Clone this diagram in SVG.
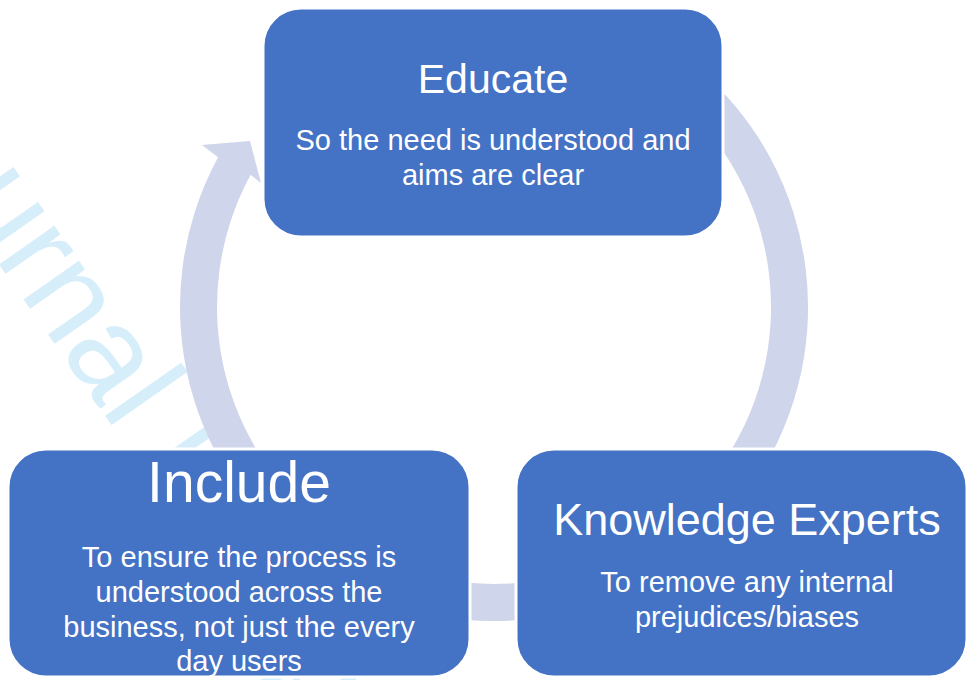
<svg xmlns="http://www.w3.org/2000/svg" width="968" height="680" viewBox="0 0 968 680">
<style>
.box{fill:#4472C4;stroke:#FFFFFF;stroke-width:3}
.t{font-family:"Liberation Sans",Arial,sans-serif;fill:#FFFFFF;text-anchor:middle}
.sub{font-size:29px}
.wm{font-family:"Liberation Sans",Arial,sans-serif;font-size:128px;fill:#D6EEFA}
</style>
<rect width="968" height="680" fill="#FFFFFF"/>
<text class="wm" transform="translate(108,420) rotate(55)" x="-405" y="0">Journal Pre-proof</text>
<g id="connectors">
<path d="M 695.8,66.5 A 314 314 0 1 1 218.1,157.2 L 202,145 L 250,141 L 261,183 L 250.6,174.8 A 277 277 0 1 0 672.1,94.8 Z" fill="#CFD5EA"/>
</g>
<g id="educate">
<rect class="box" x="263" y="8" width="460" height="229" rx="38" ry="38"/>
<text class="t" x="493" y="93" font-size="41">Educate</text>
<text class="t sub" x="493" y="150">So the need is understood and</text>
<text class="t sub" x="493" y="185">aims are clear</text>
</g>
<g id="include">
<rect class="box" x="8" y="449" width="462" height="228" rx="38" ry="38"/>
<text class="t" x="239" y="502" font-size="57">Include</text>
<text class="t sub" x="239" y="567">To ensure the process is</text>
<text class="t sub" x="239" y="602">understood across the</text>
<text class="t sub" x="239" y="637">business, not just the every</text>
<text class="t sub" x="239" y="671">day users</text>
</g>
<g id="knowledge">
<rect class="box" x="516" y="449" width="451" height="228" rx="38" ry="38"/>
<text class="t" x="747" y="535" font-size="45">Knowledge Experts</text>
<text class="t sub" x="747" y="592">To remove any internal</text>
<text class="t sub" x="747" y="627">prejudices/biases</text>
</g>
</svg>
